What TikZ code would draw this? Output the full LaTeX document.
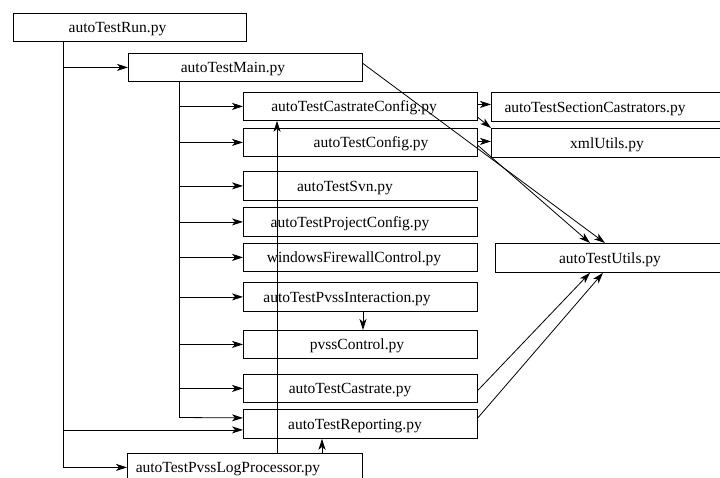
\documentclass[tikz,border=0pt]{standalone}
\usepackage{fontspec}
\setmainfont{Liberation Serif}
\usetikzlibrary{arrows.meta}
\begin{document}
\begin{tikzpicture}[x=1pt,y=-1pt,
  box/.style={draw, line width=0.8pt, inner sep=0pt, anchor=north west, minimum width=234pt, minimum height=28pt},
  tall/.style={minimum height=29pt},
  wide/.style={minimum width=260pt},
  lbl/.style={font=\fontsize{15.5}{18}\selectfont, inner sep=0pt, anchor=base},
  conn/.style={line width=0.8pt},
  arr/.style={line width=0.8pt, -{Stealth[length=11pt,width=7pt,inset=3pt]}},
  ]
\useasboundingbox (0,0) rectangle (720,477);
\clip (0,0) rectangle (720,477);

% boxes
\node[box, minimum width=233pt] (run) at (13,13) {};
\node[box] (main) at (128,53) {};
\node[box] (castconf) at (243,92) {};
\node[box] (config) at (243,128) {};
\node[box, tall] (svn) at (243,171) {};
\node[box, tall] (projconf) at (243,207) {};
\node[box] (firewall) at (243,243) {};
\node[box, tall] (pvssint) at (243,282) {};
\node[box] (pvssctl) at (243,330) {};
\node[box] (castrate) at (243,374) {};
\node[box, tall] (reporting) at (243,409) {};
\node[box, minimum width=235pt] (logproc) at (127,453) {};
\node[box, wide, tall] (sectcast) at (491,92) {};
\node[box, wide, tall] (xmlutils) at (491,128) {};
\node[box, wide, tall] (utils) at (495,243) {};

% labels
\node[lbl] (runT) at (117.5,32.5) {autoTestRun.py};
\node[lbl] (mainT) at (233,72.5) {autoTestMain.py};
\node[lbl] (castconfT) at (354,111.5) {autoTestCastrateConfig.py};
\node[lbl] (configT) at (371,147.5) {autoTestConfig.py};
\node[lbl] (svnT) at (345,191) {autoTestSvn.py};
\node[lbl] (projconfT) at (350,227) {autoTestProjectConfig.py};
\node[lbl] (firewallT) at (354,262.5) {windowsFirewallControl.py};
\node[lbl] (pvssintT) at (347,302) {autoTestPvssInteraction.py};
\node[lbl] (pvssctlT) at (357,349.5) {pvssControl.py};
\node[lbl] (castrateT) at (350,393.5) {autoTestCastrate.py};
\node[lbl] (reportingT) at (355,429) {autoTestReporting.py};
\node[lbl] (logprocT) at (228,472.5) {autoTestPvssLogProcessor.py};
\node[lbl] (sectcastT) at (595,112) {autoTestSectionCastrators.py};
\node[lbl] (xmlutilsT) at (607,148) {xmlUtils.py};
\node[lbl] (utilsT) at (610,263) {autoTestUtils.py};

% trunk from autoTestRun
\coordinate (r0) at (63,41);
\coordinate (r1) at (63,467);
\draw[conn] (r0) -- (r1);
\draw[arr] (main.west -| r0) -- (main.west);
\draw[arr] ([yshift=-6pt]reporting.west -| r0) -- ([yshift=-6pt]reporting.west);
\draw[arr] (logproc.west -| r0) -- (logproc.west);

% trunk from autoTestMain
\coordinate (m0) at (179,81);
\coordinate (m1) at (179,417.5);
\draw[conn] (m0) -- (m1);
\foreach \n in {castconf,config,svn,projconf,firewall,pvssint,pvssctl,castrate}
  \draw[arr] (\n.west -| m0) -- (\n.west);
\draw[arr] (m1) -- ([yshift=6pt]reporting.west);

% vertical links
\coordinate (cc) at ([xshift=34pt]castconf.south west);
\draw[arr] (logproc.north -| cc) -- (cc);
\coordinate (rp) at ([xshift=79pt]reporting.south west);
\draw[arr] (logproc.north -| rp) -- (rp);
\coordinate (pc) at ([xshift=120pt]pvssctl.north west);
\draw[arr] (pvssint.south -| pc) -- (pc);

% right-hand links
\draw[arr] ([yshift=2pt]castconf.east) -- ([yshift=2pt]castconf.east -| sectcast.west);
\draw[arr] ([yshift=-11pt]castconf.east) -- (xmlutils.north west);
\draw[arr] ([yshift=1pt]config.east) -- ([yshift=1pt]config.east -| xmlutils.west);
\draw[arr] ([yshift=-3pt]config.east) -- ([xshift=95pt]utils.north west);
\draw[arr] ([yshift=4pt]main.east) -- ([xshift=110pt]utils.north west);
\draw[arr] ([yshift=-2pt]castrate.east) -- ([xshift=95pt]utils.south west);
\draw[arr] ([yshift=6pt]reporting.east) -- ([xshift=108pt]utils.south west);
\end{tikzpicture}
\end{document}
